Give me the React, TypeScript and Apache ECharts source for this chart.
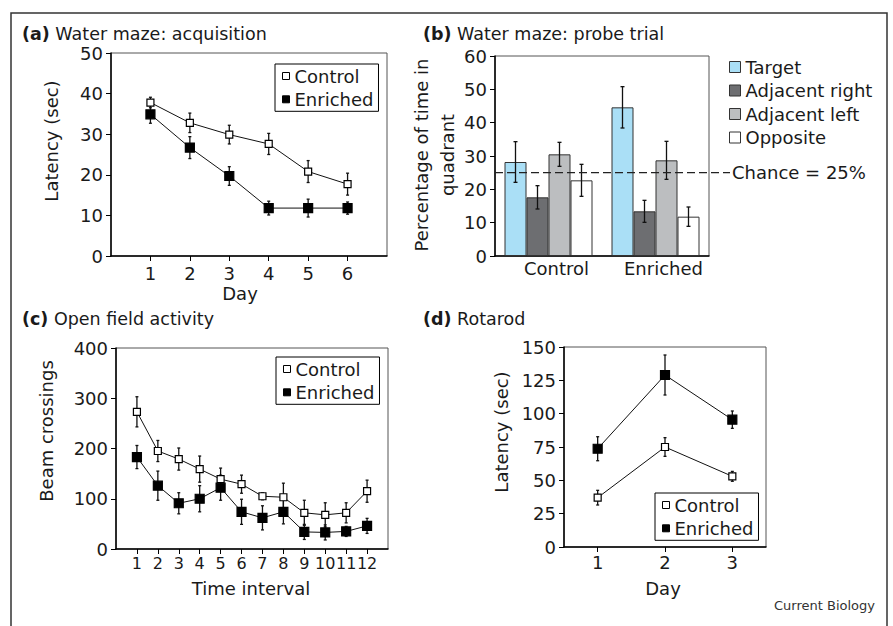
import React, { useEffect, useRef } from 'react';
import * as echarts from 'echarts';

const FONT = "'DejaVu Sans', sans-serif";
const TXT = '#1a1a1a';

// ---------- (a) Water maze: acquisition ----------
const acqDays = [1, 2, 3, 4, 5, 6];
const acqControl = [37.8, 32.8, 29.9, 27.6, 20.8, 17.7];
const acqControlErr = [1.3, 2.4, 2.3, 2.6, 2.7, 2.7];
const acqEnriched = [34.9, 26.7, 19.7, 11.8, 11.8, 11.8];
const acqEnrichedErr = [2.2, 2.7, 2.3, 1.7, 2.2, 1.5];

// ---------- (b) Water maze: probe trial ----------
const probeGroups = ['Control', 'Enriched'];
const quadrantNames = ['Target', 'Adjacent right', 'Adjacent left', 'Opposite'];
const probeTarget = [28.2, 44.6];
const probeTargetErr = [6.1, 6.2];
const probeAdjRight = [17.6, 13.4];
const probeAdjRightErr = [3.5, 3.3];
const probeAdjLeft = [30.5, 28.7];
const probeAdjLeftErr = [3.6, 5.7];
const probeOpposite = [22.7, 11.8];
const probeOppositeErr = [4.8, 2.9];
const chanceLevel = 25;

// ---------- (c) Open field activity ----------
const openIntervals = [1, 2, 3, 4, 5, 6, 7, 8, 9, 10, 11, 12];
const openControl = [273, 195, 179, 159, 139, 129, 105, 103, 72, 68, 72, 115];
const openControlErr = [30, 21, 22, 26, 22, 18, 7, 28, 25, 24, 20, 22];
const openEnriched = [183, 126, 91, 100, 122, 74, 62, 74, 34, 33, 35, 46];
const openEnrichedErr = [23, 29, 21, 26, 25, 25, 24, 24, 15, 15, 10, 15];

// ---------- (d) Rotarod ----------
const rotDays = [1, 2, 3];
const rotControl = [37, 75, 53];
const rotControlErr = [5.5, 7, 3.7];
const rotEnriched = [73.7, 129, 95.5];
const rotEnrichedErr = [9, 15, 6.5];

const quadrantColors = ['#aadff6', '#6d6e71', '#bcbec0', '#ffffff'];

function errSeries(idx: number, xs: number[], vals: number[], errs: number[], offset: number, cap: number, z: number) {
  return {
    type: 'custom',
    xAxisIndex: idx,
    yAxisIndex: idx,
    z,
    silent: true,
    data: xs.map((x, i) => [x, vals[i] - errs[i], vals[i] + errs[i]]),
    encode: { x: 0, y: [1, 2] },
    renderItem: (params: any, api: any) => {
      const x = api.value(0);
      const p1 = api.coord([x, api.value(1)]);
      const p2 = api.coord([x, api.value(2)]);
      const px = p1[0] + offset;
      const style = { stroke: '#111', lineWidth: 1.3 };
      return {
        type: 'group',
        children: [
          { type: 'line', shape: { x1: px, y1: p1[1], x2: px, y2: p2[1] }, style },
          { type: 'line', shape: { x1: px - cap, y1: p1[1], x2: px + cap, y2: p1[1] }, style },
          { type: 'line', shape: { x1: px - cap, y1: p2[1], x2: px + cap, y2: p2[1] }, style },
        ],
      };
    },
  };
}

function lineSeries(idx: number, name: string, xs: number[], vals: number[], filled: boolean) {
  return {
    type: 'line',
    name,
    xAxisIndex: idx,
    yAxisIndex: idx,
    z: 3,
    data: xs.map((x, i) => [x, vals[i]]),
    symbol: 'rect',
    symbolSize: filled ? 9 : 7,
    showAllSymbol: true,
    lineStyle: { color: '#111', width: 1 },
    itemStyle: { color: filled ? '#000' : '#fff', borderColor: '#000', borderWidth: 1.2 },
  };
}

const axisLabelBase = { fontSize: 18, fontFamily: FONT, color: TXT };

function valueY(idx: number, max: number, interval: number) {
  return {
    gridIndex: idx,
    type: 'value',
    min: 0,
    max,
    interval,
    axisLine: { show: true, lineStyle: { color: '#000', width: 1.5 } },
    axisTick: { show: true, length: 5, lineStyle: { color: '#000', width: 1 } },
    axisLabel: { ...axisLabelBase, margin: 8 },
    splitLine: { show: false },
  };
}

function valueX(idx: number, min: number, max: number, ticks: number[], margin: number, fontSize = 18) {
  return {
    gridIndex: idx,
    type: 'value',
    min,
    max,
    axisLine: { show: true, lineStyle: { color: '#000', width: 1.5 } },
    axisTick: { show: true, length: 5, customValues: ticks, lineStyle: { color: '#000', width: 1 } },
    axisLabel: {
      ...axisLabelBase,
      fontSize,
      margin,
      customValues: ticks,
      showMinLabel: true,
      showMaxLabel: true,
      hideOverlap: false,
    },
    splitLine: { show: false },
  };
}

function lineLegend(left: number, top: number) {
  return {
    show: true,
    orient: 'vertical',
    left,
    top,
    padding: [2, 5, 2, 7],
    itemGap: 3.3,
    itemWidth: 7,
    itemHeight: 7,
    selectedMode: false,
    borderColor: '#000',
    borderWidth: 1,
    textStyle: { fontSize: 18, fontFamily: FONT, color: TXT, lineHeight: 20 },
    data: [
      { name: 'Control', icon: 'rect', itemStyle: { color: '#fff', borderColor: '#000', borderWidth: 1 } },
      { name: 'Enriched', icon: 'rect', itemStyle: { color: '#000', borderColor: '#000', borderWidth: 1 } },
    ],
  };
}

function txt(text: string, x: number, y: number, opts: any = {}) {
  return {
    type: 'text',
    x,
    y,
    rotation: opts.rotation || 0,
    silent: true,
    style: {
      text,
      fontSize: opts.fontSize || 18,
      fontFamily: FONT,
      fill: opts.fill || TXT,
      align: opts.align || 'center',
      verticalAlign: 'middle',
      lineHeight: opts.lineHeight,
      rich: opts.rich,
    },
  };
}

function title(letter: string, rest: string, x: number, y: number) {
  return txt(`{b|(${letter})} ${rest}`, x, y, {
    align: 'left',
    fontSize: 17.5,
    rich: { b: { fontWeight: 'bold', fontSize: 17.5, fontFamily: FONT, fill: TXT } },
  });
}

export default function App() {
  const ref = useRef<HTMLDivElement>(null);

  useEffect(() => {
    if (!ref.current) return;
    const chart = echarts.init(ref.current, null, { renderer: 'svg' });
    const barW = 22;
    const probeVals = [probeTarget, probeAdjRight, probeAdjLeft, probeOpposite];
    const probeErrs = [probeTargetErr, probeAdjRightErr, probeAdjLeftErr, probeOppositeErr];
    const gridBase = { show: true, borderColor: '#555', borderWidth: 1, containLabel: false };

    const option: any = {
      animation: false,
      backgroundColor: '#fff',
      textStyle: { fontFamily: FONT },
      grid: [
        { ...gridBase, left: 111, top: 53, width: 276, height: 203 },
        { ...gridBase, left: 495, top: 56, width: 214, height: 200 },
        { ...gridBase, left: 116, top: 348, width: 272, height: 201 },
        { ...gridBase, left: 564, top: 347, width: 202, height: 200 },
      ],
      xAxis: [
        valueX(0, 0, 7, acqDays, 8),
        {
          gridIndex: 1,
          type: 'category',
          data: probeGroups,
          axisLine: { show: true, lineStyle: { color: '#000', width: 1.5 } },
          axisTick: { show: false },
          axisLabel: { ...axisLabelBase, margin: 3, padding: [0, 0, 0, 16] },
          splitLine: { show: false },
        },
        valueX(2, 0, 13, openIntervals, 6, 16),
        valueX(3, 0.5, 3.5, rotDays, 6),
      ],
      yAxis: [valueY(0, 50, 10), valueY(1, 60, 10), valueY(2, 400, 100), valueY(3, 150, 25)],
      legend: [
        lineLegend(275, 64),
        {
          show: true,
          orient: 'vertical',
          left: 729,
          top: 57,
          padding: 0,
          itemGap: 3.5,
          itemWidth: 11,
          itemHeight: 11,
          selectedMode: false,
          textStyle: { fontSize: 18, fontFamily: FONT, color: TXT, lineHeight: 20 },
          data: quadrantNames.map((n, i) => ({
            name: n,
            icon: 'rect',
            itemStyle: { color: quadrantColors[i], borderColor: '#333', borderWidth: 1 },
          })),
        },
        lineLegend(276, 357),
        lineLegend(655, 493),
      ],
      series: [
        // (a)
        errSeries(0, acqDays, acqControl, acqControlErr, 0, 1.5, 1),
        errSeries(0, acqDays, acqEnriched, acqEnrichedErr, 0, 1.5, 1),
        lineSeries(0, 'Control', acqDays, acqControl, false),
        lineSeries(0, 'Enriched', acqDays, acqEnriched, true),
        // (b)
        ...quadrantNames.map((n, i) => ({
          type: 'bar',
          name: n,
          xAxisIndex: 1,
          yAxisIndex: 1,
          data: probeVals[i],
          barWidth: barW,
          barGap: '0%',
          z: 2,
          itemStyle: { color: quadrantColors[i], borderColor: '#333', borderWidth: 1 },
        })),
        ...quadrantNames.map((n, i) =>
          errSeries(1, [0, 1], probeVals[i], probeErrs[i], (i - 1.5) * barW, 2, 4)
        ),
        {
          type: 'custom',
          xAxisIndex: 1,
          yAxisIndex: 1,
          z: 5,
          silent: true,
          data: [[0, chanceLevel]],
          encode: { x: 0, y: 1 },
          renderItem: (params: any, api: any) => {
            const cs = params.coordSys;
            const y = api.coord([0, api.value(1)])[1];
            const x2 = cs.x + cs.width + 21;
            return {
              type: 'group',
              children: [
                {
                  type: 'line',
                  shape: { x1: cs.x, y1: y, x2, y2: y },
                  style: { stroke: '#222', lineWidth: 1.3, lineDash: [8, 4] },
                },
                {
                  type: 'text',
                  x: x2 + 2,
                  y,
                  style: {
                    text: `Chance = ${api.value(1)}%`,
                    fontSize: 18,
                    fontFamily: FONT,
                    fill: TXT,
                    align: 'left',
                    verticalAlign: 'middle',
                  },
                },
              ],
            };
          },
        },
        // (c)
        errSeries(2, openIntervals, openControl, openControlErr, 0, 1.5, 1),
        errSeries(2, openIntervals, openEnriched, openEnrichedErr, 0, 1.5, 1),
        lineSeries(2, 'Control', openIntervals, openControl, false),
        lineSeries(2, 'Enriched', openIntervals, openEnriched, true),
        // (d)
        errSeries(3, rotDays, rotControl, rotControlErr, 0, 1.5, 1),
        errSeries(3, rotDays, rotEnriched, rotEnrichedErr, 0, 1.5, 1),
        lineSeries(3, 'Control', rotDays, rotControl, false),
        lineSeries(3, 'Enriched', rotDays, rotEnriched, true),
      ],
      graphic: {
        elements: [
          {
            type: 'polyline',
            silent: true,
            shape: { points: [[11, 630], [11, 13], [887, 13], [887, 630]] },
            style: { stroke: '#333', lineWidth: 1.5, fill: 'none' },
          },
          title('a', 'Water maze: acquisition', 22, 34),
          title('b', 'Water maze: probe trial', 423, 34),
          title('c', 'Open field activity', 22, 319),
          title('d', 'Rotarod', 423, 319),
          txt('Latency (sec)', 51, 141, { rotation: Math.PI / 2 }),
          txt('Day', 240, 293),
          txt('Percentage of time in\nquadrant', 434, 155, { rotation: Math.PI / 2, lineHeight: 26 }),
          txt('Beam crossings', 46, 431, { rotation: Math.PI / 2 }),
          txt('Time interval', 251, 588),
          txt('Latency (sec)', 501, 432, { rotation: Math.PI / 2 }),
          txt('Day', 663, 588),
          txt('Current Biology', 875, 605, { align: 'right', fontSize: 13, fill: '#333' }),
        ],
      },
    };

    chart.setOption(option);
    return () => chart.dispose();
  }, []);

  return (
    <div
      ref={ref}
      style={{ position: 'absolute', left: 0, top: 0, width: 893, height: 626, background: '#fff' }}
    />
  );
}
